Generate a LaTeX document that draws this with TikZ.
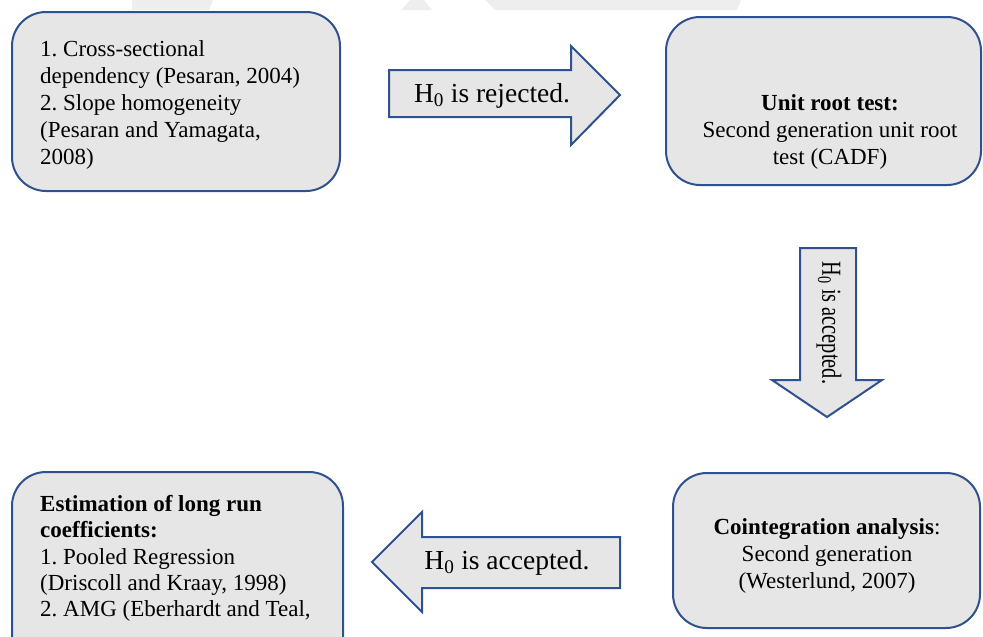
\documentclass[tikz,border=0pt]{standalone}
\usepackage{fontspec}
\setmainfont{Liberation Serif}
\frenchspacing
\definecolor{boxblue}{RGB}{47,82,143}
\definecolor{boxfill}{RGB}{231,230,230}
\definecolor{wmark}{RGB}{238,238,238}
\begin{document}
\begin{tikzpicture}[x=1pt,y=-1pt,
  stagebox/.style={draw=boxblue,fill=boxfill,line width=2pt,rounded corners=34pt,
     inner sep=0pt,outer sep=0pt},
  blockarrow/.style={draw=boxblue,fill=boxfill,line width=2pt,line join=miter},
  boxtext/.style={inner sep=0pt,font=\fontsize{23}{27}\selectfont},
  arrowtext/.style={inner sep=0pt,font=\fontsize{27.5}{31}\selectfont}]
\useasboundingbox (0,0) rectangle (983,637);
% faint watermark at top
\fill[wmark] (132,0) -- (213,0) -- (209,10) -- (132,10) -- cycle;
\fill[wmark] (410,0) -- (424,0) -- (432,10) -- (401,10) -- cycle;
\fill[wmark] (485,0) -- (741,0) -- (737,10) -- (495,10) -- cycle;
% boxes
\node[stagebox,minimum width=328pt,minimum height=179pt] (b1) at (176,101.5) {};
\node[boxtext,align=flush left,anchor=north west] (t1) at (40,40)
  {1. Cross-sectional\\ dependency (Pesaran, 2004)\\ 2. Slope homogeneity\\
   (Pesaran and Yamagata,\\ 2008)};
\node[stagebox,minimum width=315pt,minimum height=168pt] (b2) at (823.5,101) {};
\node[boxtext,align=center] (t2) at (830,132)
  {\textbf{Unit root test:}\\ Second generation unit root\\ test (CADF)};
\node[stagebox,minimum width=307pt,minimum height=155pt] (b4) at (826.5,550.5) {};
\node[boxtext,align=center] (t4) at (827,556)
  {\textbf{Cointegration analysis}:\\ Second generation\\ (Westerlund, 2007)};
\node[stagebox,minimum width=331pt,minimum height=200pt] (b3) at (177.5,572) {};
\node[boxtext,align=flush left,anchor=north west,font=\fontsize{23}{26.3}\selectfont] (t3) at (40,495)
  {\textbf{Estimation of long run}\\ \textbf{coefficients:}\\ 1. Pooled Regression\\
   (Driscoll and Kraay, 1998)\\ 2. AMG (Eberhardt and Teal,};
% block arrows
\draw[blockarrow] (389,70) -- (571,70) -- (571,46) -- (620,95) -- (571,145)
   -- (571,117) -- (389,117) -- cycle;
\node[arrowtext] (a1) at (492,96) {H\textsubscript{0} is rejected.};
\draw[blockarrow] (800,248) -- (856,248) -- (856,380) -- (882,380) -- (827,417)
   -- (772,380) -- (800,380) -- cycle;
\node[arrowtext,rotate=-90,xscale=0.74] (a2) at (829,323) {H\textsubscript{0} is accepted.};
\draw[blockarrow] (372,562) -- (422,512) -- (422,537) -- (620,537) -- (620,588)
   -- (422,588) -- (422,612) -- cycle;
\node[arrowtext] (a3) at (507,563) {H\textsubscript{0} is accepted.};
\end{tikzpicture}
\end{document}
